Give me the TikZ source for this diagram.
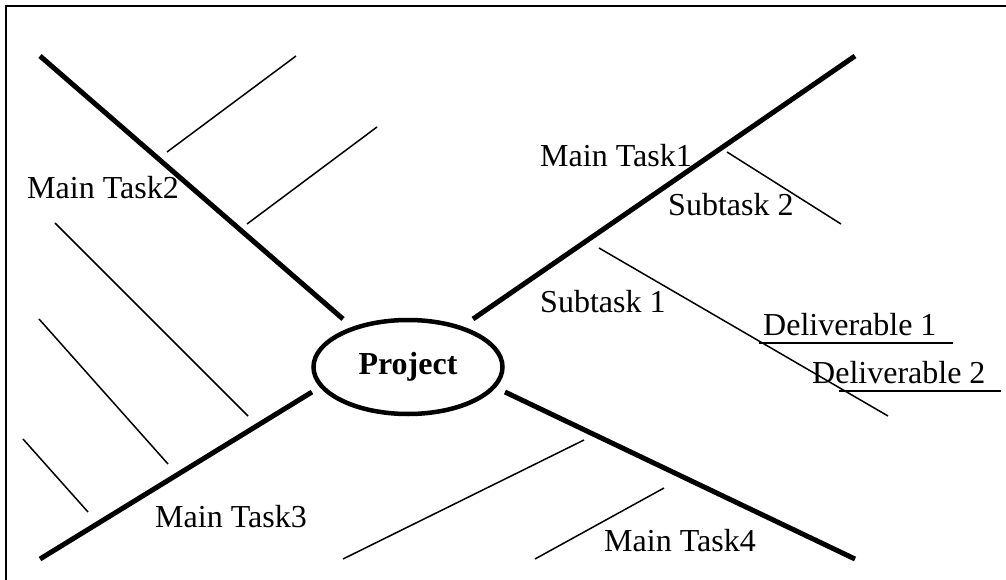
\documentclass[tikz,border=0pt]{standalone}
\usepackage{fontspec}
\setmainfont{Liberation Serif}
\usetikzlibrary{shapes.geometric}
\begin{document}
\begin{tikzpicture}[x=1pt,y=-1pt,
  branch/.style={line width=5pt},
  twig/.style={line width=1.5pt},
  lbl/.style={anchor=base west,inner sep=0pt,font=\fontsize{32}{36}\selectfont},
  hub/.style={draw,ellipse,line width=4.5pt,minimum width=189pt,minimum height=94pt,inner sep=0pt,font=\fontsize{32}{36}\selectfont\bfseries}]
\useasboundingbox (0,0) rectangle (1006,580);
\clip (0,0) rectangle (1006,580);
\draw[line width=2pt] (6,6) rectangle (1012,592);
% hub
\node[hub] (project) at (408,367) {Project};
% main branches
\coordinate (b2a) at (40,56);   \coordinate (b2b) at (343,319);
\coordinate (b1a) at (473,319); \coordinate (b1b) at (855,56);
\coordinate (b3a) at (40,559);  \coordinate (b3b) at (312,392);
\coordinate (b4a) at (505,392); \coordinate (b4b) at (855,559);
\draw[branch] (b2a) -- (b2b);
\draw[branch] (b1a) -- (b1b);
\draw[branch] (b3a) -- (b3b);
\draw[branch] (b4a) -- (b4b);
% twigs top-left
\coordinate (t1a) at (167,152); \coordinate (t1b) at (296,56);
\coordinate (t2a) at (247,224); \coordinate (t2b) at (377,127);
\draw[twig] (t1a) -- (t1b);
\draw[twig] (t2a) -- (t2b);
% twigs left
\coordinate (t3a) at (55,223); \coordinate (t3b) at (248,416);
\coordinate (t4a) at (39,319); \coordinate (t4b) at (168,464);
\coordinate (t5a) at (23,439); \coordinate (t5b) at (88,512);
\draw[twig] (t3a) -- (t3b);
\draw[twig] (t4a) -- (t4b);
\draw[twig] (t5a) -- (t5b);
% twigs bottom
\coordinate (t6a) at (343,559); \coordinate (t6b) at (584,440);
\coordinate (t7a) at (535,559); \coordinate (t7b) at (664,488);
\draw[twig] (t6a) -- (t6b);
\draw[twig] (t7a) -- (t7b);
% twigs right
\coordinate (s2a) at (727,152); \coordinate (s2b) at (841,224);
\coordinate (s1a) at (599,248); \coordinate (s1b) at (888,416);
\coordinate (d1a) at (759,343); \coordinate (d1b) at (953,343);
\coordinate (d2a) at (839,391); \coordinate (d2b) at (1001,391);
\draw[twig] (s2a) -- (s2b);
\draw[twig] (s1a) -- (s1b);
\draw[twig] (d1a) -- (d1b);
\draw[twig] (d2a) -- (d2b);
% labels
\node[lbl] (mt2) at (27,199) {Main Task2};
\node[lbl] (mt1) at (540,167) {Main Task1};
\node[lbl] (st2) at (668,215) {Subtask 2};
\node[lbl] (st1) at (540,312) {Subtask 1};
\node[lbl] (dl1) at (763,335) {Deliverable 1};
\node[lbl] (dl2) at (812,383) {Deliverable 2};
\node[lbl] (mt3) at (155,527) {Main Task3};
\node[lbl] (mt4) at (604,551) {Main Task4};
\end{tikzpicture}
\end{document}
